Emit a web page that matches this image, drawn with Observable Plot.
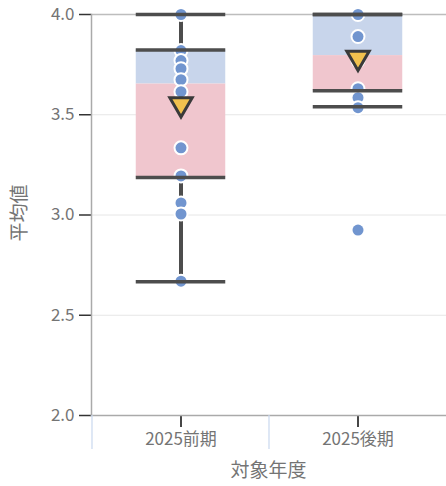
<!DOCTYPE html>
<html>
<head>
<meta charset="utf-8">
<script src="https://cdn.jsdelivr.net/npm/d3@7"></script>
<script src="https://cdn.jsdelivr.net/npm/@observablehq/plot@0.6"></script>
<style>
  body { margin: 0; background: #fff; }
  #chart svg { display: block; }
</style>
</head>
<body>
<div id="chart"></div>
<script>
// Categories
const categories = ["2025前期", "2025後期"];
// Box summary values
const whiskerHigh = [4.0, 4.0];
const q3 = [3.823, 4.0];
const median = [3.653, 3.795];
const q1 = [3.187, 3.62];
const whiskerLow = [2.667, 3.54];
const means = [3.553, 3.785];
// Individual points
const pointsFirst = [4.0, 3.82, 3.77, 3.73, 3.675, 3.615, 3.335, 3.195, 3.06, 3.005, 2.67];
const pointsSecond = [4.0, 3.89, 3.77, 3.63, 3.585, 3.535, 2.925];
const yTicks = [2.0, 2.5, 3.0, 3.5, 4.0];

const boxes = categories.map((c, i) => ({
  cat: c, lo: whiskerLow[i], hi: whiskerHigh[i], q1: q1[i], med: median[i], q3: q3[i], mean: means[i]
}));
const points = [
  ...pointsFirst.map(v => ({cat: categories[0], v})),
  ...pointsSecond.map(v => ({cat: categories[1], v}))
];
const caps = boxes.flatMap(b => [b.hi, b.q3, b.q1, b.lo].map(v => ({cat: b.cat, v})));

const W = 446, H = 486;
const boxInset = 43.75;
const lineColor = "#4d4d4d";
const textColor = "#747474";

const chart = Plot.plot({
  width: W,
  height: H,
  marginTop: 14,
  marginBottom: 71,
  marginLeft: 91,
  marginRight: 0,
  style: {fontFamily: "'Noto Sans CJK JP', 'Noto Sans', sans-serif", background: "#fff", overflow: "visible"},
  x: {type: "band", domain: categories, padding: 0, label: null, axis: null},
  y: {domain: [2, 4], label: null, axis: null},
  marks: [
    // grid lines
    Plot.ruleY(yTicks.filter(t => t > 2 && t < 4), {y: d => d, stroke: "#e6e6e6", strokeWidth: 1}),
    Plot.ruleY([4.0], {stroke: "#bdbdbd", strokeWidth: 1.5}),
    // boxes: upper (blue) and lower (pink)
    Plot.barY(boxes, {x: "cat", y1: "med", y2: "q3", fill: "#c8d5eb", insetLeft: boxInset, insetRight: boxInset}),
    Plot.barY(boxes, {x: "cat", y1: "q1", y2: "med", fill: "#f0c6ce", insetLeft: boxInset, insetRight: boxInset}),
    // whisker vertical
    Plot.ruleX(boxes, {x: "cat", y1: "lo", y2: "q1", stroke: lineColor, strokeWidth: 4}),
    Plot.ruleX(boxes, {x: "cat", y1: "q3", y2: "hi", stroke: lineColor, strokeWidth: 4}),
    // points
    Plot.dot(points, {x: "cat", y: "v", r: 5.5, fill: "#7195cf", stroke: "white", strokeWidth: 4, paintOrder: "stroke"}),
    // caps
    Plot.tickY(caps, {x: "cat", y: "v", stroke: lineColor, strokeWidth: 3.5, inset: boxInset}),
    // mean triangles
    Plot.dot(boxes, {x: "cat", y: "mean", symbol: "triangle", r: 8.3, rotate: 180, fill: "#f2c14e", stroke: "#3a3a3a", strokeWidth: 3, strokeLinejoin: "miter"}),
    // axes
    Plot.axisY(yTicks, {tickFormat: d3.format(".1f"), tickSize: 12, tickPadding: 5, fontSize: 17, color: "#333", fill: textColor, strokeWidth: 1.5}),
    Plot.axisX({tickSize: 12, tickPadding: 5, fontSize: 17, color: "#333", fill: textColor, strokeWidth: 1.8, label: null}),
    Plot.frame({anchor: "left", stroke: "#aaa", strokeWidth: 1.5}),
    Plot.frame({anchor: "bottom", stroke: "#aaa", strokeWidth: 1.5})
  ]
});

// separators below axis and axis titles
const svg = d3.select(chart);
const xs = chart.scale("x");
const bandStarts = categories.map(c => xs.apply(c));
svg.selectAll("line.sep").data(bandStarts).join("line")
  .attr("x1", d => d).attr("x2", d => d)
  .attr("y1", H - 71).attr("y2", H - 37)
  .attr("stroke", "#c9d8ee").attr("stroke-width", 1.2);
svg.append("text")
  .attr("x", 91 + (W - 91) / 2).attr("y", 472)
  .attr("text-anchor", "middle").attr("dominant-baseline", "middle")
  .attr("fill", textColor).attr("font-size", 19).text("対象年度");
svg.append("text")
  .attr("transform", "translate(21,213) rotate(-90)")
  .attr("text-anchor", "middle").attr("dominant-baseline", "middle")
  .attr("fill", textColor).attr("font-size", 19).text("平均値");

document.getElementById("chart").appendChild(chart);
</script>
</body>
</html>
